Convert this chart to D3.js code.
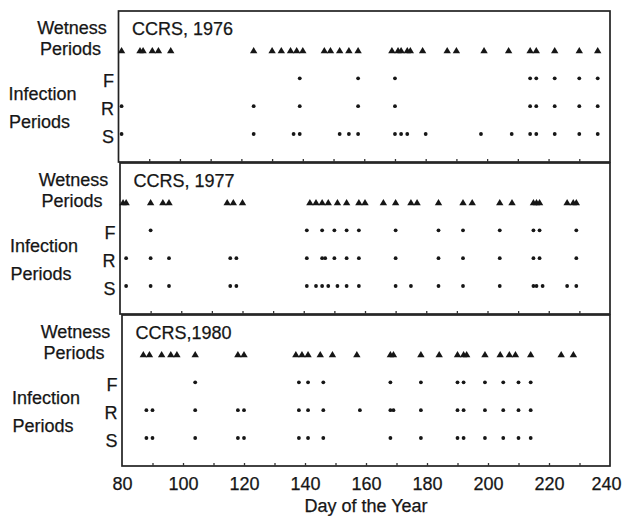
<!DOCTYPE html>
<html>
<head>
<meta charset="utf-8">
<script src="https://cdn.jsdelivr.net/npm/d3@7"></script>
<style>
  html, body { margin: 0; padding: 0; background: #fff; }
  svg { display: block; }
  text { font-family: "Liberation Sans", Arial, Helvetica, sans-serif; fill: #161616; stroke: #161616; stroke-width: 0.25px; }
</style>
</head>
<body>
<svg id="chart" width="623" height="516"></svg>
<script>
// ---------- data (day of the year) ----------
const panelTitles = ["CCRS, 1976", "CCRS, 1977", "CCRS,1980"];
const rowNames = ["W", "F", "R", "S"];
const infectionLabels = ["F", "R", "S"];
const tickDays = [90, 100, 110, 120, 130, 140, 150, 160, 170, 180, 190, 200, 210, 220, 230];
const tickLabels = [80, 100, 120, 140, 160, 180, 200, 220, 240];

const wet1976 = [81, 87, 88, 91, 93, 97, 124, 130, 133, 136, 138, 140, 147, 149, 152, 155, 158,
                 169, 171, 172, 174, 175, 179, 187, 190, 199, 207, 214, 216, 222, 230, 236];
const F1976 = [139, 158, 170, 214, 216, 222, 230, 236];
const R1976 = [81, 124, 139, 158, 170, 214, 216, 222, 230, 236];
const S1976 = [81, 124, 137, 139, 152, 155, 158, 170, 172, 174, 180, 198, 208, 214, 216, 222, 230, 236];

const wet1977 = [81, 82, 90, 94, 96, 115, 117, 120, 142, 144, 146, 148, 151, 154, 158, 160,
                 166, 170, 175, 177, 184, 192, 195, 204, 208, 215, 216, 217, 226, 228, 229];
const F1977 = [90, 141, 146, 150, 154, 158, 170, 184, 192, 204, 215, 217, 229];
const R1977 = [82, 90, 96, 116, 118, 141, 146, 147, 150, 154, 158, 170, 184, 192, 204, 215, 217, 229];
const S1977 = [82, 90, 96, 116, 118, 141, 144, 146, 148, 151, 154, 158, 170, 175, 184, 192, 204,
               215, 216, 218, 226, 229];

const wet1980 = [87, 89, 93, 96, 98, 104, 118, 120, 137, 139, 141, 145, 149, 157, 168, 169, 178,
                 184, 190, 192, 193, 199, 204, 207, 209, 214, 224, 228];
const F1980 = [104, 138, 141, 146, 168, 178, 190, 192, 199, 205, 210, 214];
const R1980 = [88, 90, 104, 118, 120, 138, 141, 146, 158, 168, 169, 178, 190, 192, 199, 205, 210, 214];
const S1980 = [88, 90, 104, 118, 120, 138, 141, 146, 168, 178, 190, 192, 199, 205, 210, 214];

const panelsData = [
  { title: panelTitles[0], W: wet1976, F: F1976, R: R1976, S: S1976 },
  { title: panelTitles[1], W: wet1977, F: F1977, R: R1977, S: S1977 },
  { title: panelTitles[2], W: wet1980, F: F1980, R: R1980, S: S1980 }
];

// ---------- layout ----------
const panelLefts = [118.5, 120, 122];
const panelTops = [11, 163, 315];
const panelRight = 610;
const panelH = 151;
const ink = "#161616";

const svg = d3.select("#chart");
const y = d3.scalePoint().domain(rowNames).range([39.5, 123]);
const triPath = "M0,-3.4L3.7,2.8L-3.7,2.8Z";

panelsData.forEach((p, i) => {
  const left = panelLefts[i], top = panelTops[i];
  const x = d3.scaleLinear().domain([80, 240]).range([left, panelRight]);
  const g = svg.append("g").attr("transform", `translate(0,${top})`);

  // frame
  g.append("rect")
    .attr("x", left).attr("y", 0)
    .attr("width", panelRight - left).attr("height", panelH)
    .attr("fill", "none").attr("stroke", "#222").attr("stroke-width", 1.7);

  // inward ticks on bottom
  const ax = g.append("g").attr("transform", `translate(0,${panelH})`)
    .call(d3.axisBottom(x).tickValues(tickDays).tickSizeInner(-3).tickSizeOuter(0).tickFormat(""));
  ax.select(".domain").remove();
  ax.selectAll(".tick line").attr("stroke", "#333").attr("stroke-width", 1.3);

  // title
  g.append("text").attr("x", left + 13.5).attr("y", 24)
    .attr("font-size", 18).text(p.title);

  // left labels
  const cx = left - 46.5;
  g.append("text").attr("x", cx).attr("y", 23).attr("text-anchor", "middle")
    .attr("font-size", 18).text("Wetness");
  g.append("text").attr("x", cx - 1.5).attr("y", 44).attr("text-anchor", "middle")
    .attr("font-size", 18).text("Periods");
  g.append("text").attr("x", left - 110).attr("y", 89)
    .attr("font-size", 18).text("Infection");
  g.append("text").attr("x", left - 109.5).attr("y", 117)
    .attr("font-size", 18).text("Periods");
  infectionLabels.forEach(r => {
    g.append("text").attr("x", left - 4.5).attr("y", y(r) + 9)
      .attr("text-anchor", "end").attr("font-size", 18).text(r);
  });

  // wetness triangles
  g.selectAll("path.tri").data(p.W).join("path")
    .attr("class", "tri")
    .attr("d", triPath)
    .attr("transform", d => `translate(${x(d)},${y("W")})`)
    .attr("fill", ink);

  // infection dots
  infectionLabels.forEach(r => {
    g.selectAll(`circle.d${r}`).data(p[r]).join("circle")
      .attr("class", `d${r}`)
      .attr("cx", d => x(d)).attr("cy", y(r)).attr("r", 1.9)
      .attr("fill", ink);
  });

  // bottom axis labels
  if (i === panelsData.length - 1) {
    const lab = g.append("g").attr("transform", `translate(0,${panelH})`)
      .call(d3.axisBottom(x).tickValues(tickLabels).tickSize(0).tickPadding(11).tickFormat(d3.format("d")));
    lab.select(".domain").remove();
    lab.selectAll("text").attr("font-size", 18).attr("fill", ink)
      .attr("font-family", "'Liberation Sans', Arial, Helvetica, sans-serif")
      .attr("dx", d => d === 240 ? -4 : 0);
    g.append("text").attr("x", (left + panelRight) / 2).attr("y", panelH + 46)
      .attr("text-anchor", "middle").attr("font-size", 18).text("Day of the Year");
  }
});
</script>
</body>
</html>
